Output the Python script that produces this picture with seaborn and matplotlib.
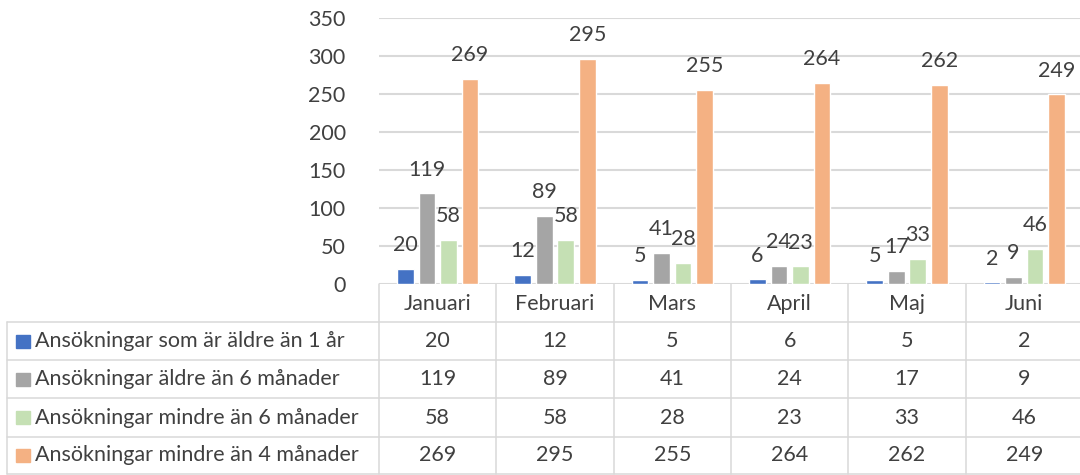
import matplotlib
matplotlib.use("Agg")
import matplotlib.pyplot as plt
import matplotlib.transforms as mtransforms
from matplotlib.lines import Line2D
from matplotlib.patches import Rectangle
import pandas as pd
import seaborn as sns

# data
months = ["Januari", "Februari", "Mars", "April", "Maj", "Juni"]
series = ["Ansökningar som är äldre än 1 år",
          "Ansökningar äldre än 6 månader",
          "Ansökningar mindre än 6 månader",
          "Ansökningar mindre än 4 månader"]
older_1y = [20, 12, 5, 6, 5, 2]
older_6m = [119, 89, 41, 24, 17, 9]
under_6m = [58, 58, 28, 23, 33, 46]
under_4m = [269, 295, 255, 264, 262, 249]
colors = ["#4472C4", "#A5A5A5", "#C5E0B4", "#F4B183"]

values = [older_1y, older_6m, under_6m, under_4m]
df = pd.DataFrame([(m, s, v) for s, vals in zip(series, values)
                   for m, v in zip(months, vals)],
                  columns=["month", "series", "value"])

sns.set_theme(style="white")
plt.rcParams["font.family"] = ["Lato", "DejaVu Sans"]
text_color = "#404040"
grid_color = "#D9D9D9"
fs = 15.5

W, H = 1080, 475
fig = plt.figure(figsize=(W / 100, H / 100), dpi=100)
ax = fig.add_axes([379 / W, 1 - 284 / H, 704 / W, 266.5 / H])

sns.barplot(data=df, x="month", y="value", hue="series", order=months,
            hue_order=series, palette=colors, width=0.733, gap=0.23,
            saturation=1, errorbar=None, legend=False, ax=ax)

for cont in ax.containers:
    ax.bar_label(cont, padding=10, fontsize=fs, color=text_color)

ax.set_xlim(-0.5, len(months) - 0.5)
ax.set_ylim(0, 350)
ax.set_yticks(range(0, 351, 50))
ax.yaxis.grid(True, color=grid_color, lw=1.5)
ax.set_axisbelow(True)
for sp in ax.spines.values():
    sp.set_visible(False)
ax.set_xlabel("")
ax.set_ylabel("")
ax.set_xticklabels([])
ax.tick_params(axis="x", length=0)
ax.tick_params(axis="y", length=0, pad=24, labelsize=fs, labelcolor=text_color)

# data table under the chart
def fy(py):
    return 1 - py / H

trans = mtransforms.blended_transform_factory(ax.transData, fig.transFigure)
lw = 1.1
row_edges = [322, 360.2, 398.4, 436.6, 474.3]
right = 1083 / W

for y in row_edges:
    fig.add_artist(Line2D([7 / W, right], [fy(y), fy(y)], color=grid_color, lw=lw))
fig.add_artist(Line2D([7 / W, 7 / W], [fy(322), fy(474.3)], color=grid_color, lw=lw))
for k in range(len(months) + 1):
    fig.add_artist(Line2D([k - 0.5, k - 0.5], [fy(284), fy(474.3)],
                          color=grid_color, lw=lw, transform=trans))

for i, m in enumerate(months):
    fig.text(i, fy(304), m, transform=trans, ha="center", va="center",
             fontsize=fs, color=text_color)

for r, (name, vals, col) in enumerate(zip(series, values, colors)):
    yc = (row_edges[r] + row_edges[r + 1]) / 2
    fig.add_artist(Rectangle((16 / W, fy(yc + 6.5)), 14 / W, 13 / H,
                             transform=fig.transFigure, color=col))
    fig.text(35 / W, fy(yc), name, ha="left", va="center",
             fontsize=fs, color=text_color)
    for i, v in enumerate(vals):
        fig.text(i, fy(yc), str(v), transform=trans, ha="center", va="center",
                 fontsize=fs, color=text_color)

fig.savefig("out.png", dpi=100)
